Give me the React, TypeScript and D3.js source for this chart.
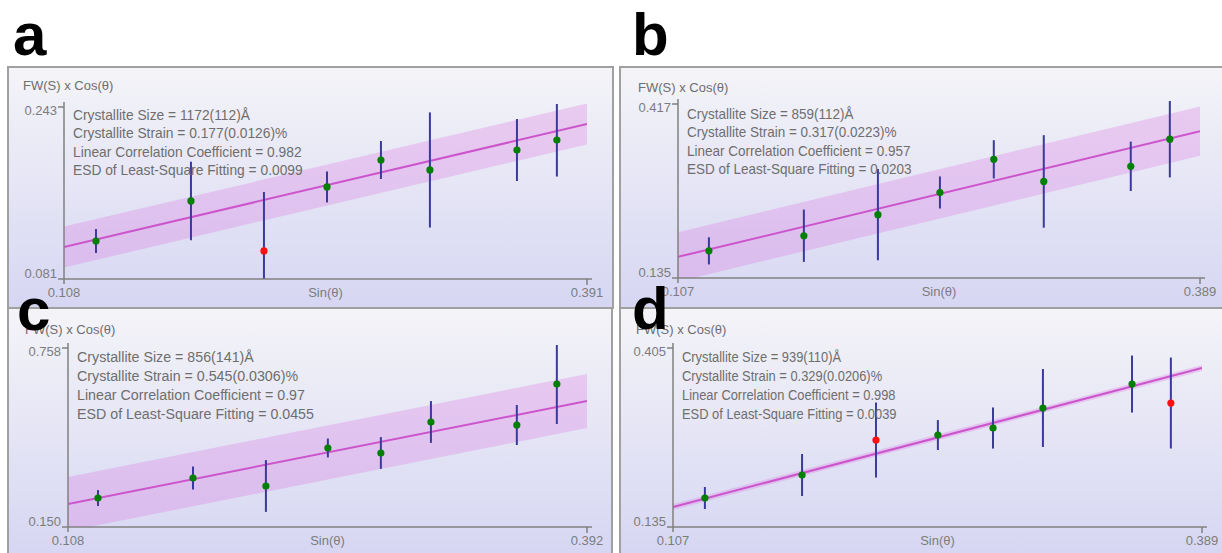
import React from 'react';
import * as d3 from 'd3';

// ---------- data ----------
const panelLetters = ['a', 'b', 'c', 'd'];
const xMins = [0.108, 0.107, 0.108, 0.107];
const xMaxs = [0.391, 0.389, 0.392, 0.389];
const yMins = [0.081, 0.135, 0.150, 0.135];
const yMaxs = [0.243, 0.417, 0.758, 0.405];

const aX = [0.1253, 0.1767, 0.2162, 0.2503, 0.2795, 0.3060, 0.3531, 0.3747];
const aY = [0.1168, 0.1545, 0.1074, 0.1677, 0.1931, 0.1837, 0.2025, 0.2119];
const aErr = [0.0113, 0.0370, 0.0556, 0.0146, 0.0179, 0.0542, 0.0292, 0.0344];
const aOutlier = [0, 0, 1, 0, 0, 0, 0, 0];
const aFit = [0.1111, 0.2270];
const aBand = 0.0193;

const bX = [0.1237, 0.1750, 0.2150, 0.2485, 0.2776, 0.3046, 0.3516, 0.3727];
const bY = [0.1790, 0.2035, 0.2377, 0.2736, 0.3273, 0.2915, 0.3160, 0.3600];
const bErr = [0.0220, 0.0424, 0.0740, 0.0260, 0.0310, 0.0750, 0.0400, 0.0620];
const bOutlier = [0, 0, 0, 0, 0, 0, 0, 0];
const bFit = [0.1692, 0.3730];
const bBand = 0.040;

const cX = [0.1244, 0.1764, 0.2163, 0.2502, 0.2792, 0.3066, 0.3536, 0.3755];
const cY = [0.2485, 0.3165, 0.2893, 0.4184, 0.4014, 0.5067, 0.4965, 0.6358];
const cErr = [0.027, 0.039, 0.088, 0.032, 0.054, 0.071, 0.068, 0.136];
const cOutlier = [0, 0, 0, 0, 0, 0, 0, 0];
const cFit = [0.2281, 0.578];
const cBand = 0.092;

const dX = [0.1240, 0.1758, 0.2152, 0.2482, 0.2776, 0.3042, 0.3517, 0.3724];
const dY = [0.1787, 0.2134, 0.2662, 0.2737, 0.2843, 0.3145, 0.3506, 0.3220];
const dErr = [0.0166, 0.0317, 0.0566, 0.0226, 0.0310, 0.0588, 0.0430, 0.0686];
const dOutlier = [0, 0, 1, 0, 0, 0, 0, 1];
const dFit = [0.1652, 0.3748];
const dBand = 0.0045;

const statsA = ['Crystallite Size = 1172(112)Å', 'Crystallite Strain = 0.177(0.0126)%', 'Linear Correlation Coefficient = 0.982', 'ESD of Least-Square Fitting = 0.0099'];
const statsB = ['Crystallite Size = 859(112)Å', 'Crystallite Strain = 0.317(0.0223)%', 'Linear Correlation Coefficient = 0.957', 'ESD of Least-Square Fitting = 0.0203'];
const statsC = ['Crystallite Size = 856(141)Å', 'Crystallite Strain = 0.545(0.0306)%', 'Linear Correlation Coefficient = 0.97', 'ESD of Least-Square Fitting = 0.0455'];
const statsD = ['Crystallite Size = 939(110)Å', 'Crystallite Strain = 0.329(0.0206)%', 'Linear Correlation Coefficient = 0.998', 'ESD of Least-Square Fitting = 0.0039'];

const yAxisTitle = 'FW(S) x Cos(θ)';
const xAxisTitle = 'Sin(θ)';

const seriesX = [aX, bX, cX, dX];
const seriesY = [aY, bY, cY, dY];
const seriesErr = [aErr, bErr, cErr, dErr];
const seriesOut = [aOutlier, bOutlier, cOutlier, dOutlier];
const fits = [aFit, bFit, cFit, dFit];
const bands = [aBand, bBand, cBand, dBand];
const stats = [statsA, statsB, statsC, statsD];

// ---------- layout ----------
const layouts = [
  { fx: 8, fy: 67, fw: 605, fh: 241, ax: 64, right: 587, top: 107, bottom: 279, sx: 0.92, lx: 13, ly: 55, tx: 23, ty: 90, sy: 120, sdy: 18.5 },
  { fx: 620, fy: 67, fw: 604, fh: 241, ax: 678, right: 1200, top: 104, bottom: 278, sx: 0.9, lx: 632, ly: 55, tx: 638, ty: 92, sy: 119, sdy: 18.5 },
  { fx: 8, fy: 308, fw: 604, fh: 247, ax: 68, right: 587, top: 348, bottom: 527, sx: 0.95, lx: 17, ly: 330, tx: 25, ty: 334, sy: 362.5, sdy: 19 },
  { fx: 620, fy: 308, fw: 604, fh: 247, ax: 673, right: 1202, top: 348, bottom: 527, sx: 0.86, lx: 632, ly: 329, tx: 636, ty: 334, sy: 362.5, sdy: 19 },
];

const FONT = "'Liberation Sans', Arial, sans-serif";
const AXIS = '#808080';
const TEXT = '#6e6e6e';

function Panel({ i }: { i: number }) {
  const L = layouts[i];
  const x = d3.scaleLinear().domain([xMins[i], xMaxs[i]]).range([L.ax, L.right]);
  const y = d3.scaleLinear().domain([yMins[i], yMaxs[i]]).range([L.bottom, L.top]);
  const fit = d3.scaleLinear().domain([xMins[i], xMaxs[i]]).range(fits[i]);
  const xs = [xMins[i], xMaxs[i]];
  const band = d3.area<number>().x(v => x(v)).y0(v => y(fit(v) - bands[i])).y1(v => y(fit(v) + bands[i]));
  const line = d3.line<number>().x(v => x(v)).y(v => y(fit(v)));
  const clipId = `clip-${i}`;
  const fmt = d3.format('.3f');
  return (
    <g>
      <rect x={L.fx} y={L.fy} width={L.fw} height={L.fh} fill="url(#bg)" stroke="#a0a0a0" strokeWidth={2} />
      <clipPath id={clipId}>
        <rect x={L.ax} y={L.top - 3} width={L.right - L.ax} height={L.bottom - L.top + 3} />
      </clipPath>
      <g clipPath={`url(#${clipId})`}>
        <path d={band(xs) || ''} fill="rgb(220,120,225)" fillOpacity={0.3} />
        <path d={line(xs) || ''} fill="none" stroke="#cc55cc" strokeWidth={2} />
        {seriesX[i].map((xv, k) => (
          <line key={'e' + k} x1={x(xv)} x2={x(xv)} y1={y(seriesY[i][k] - seriesErr[i][k])} y2={y(seriesY[i][k] + seriesErr[i][k])} stroke="#3a3a9c" strokeWidth={2} />
        ))}
        {seriesX[i].map((xv, k) => (
          <circle key={'p' + k} cx={x(xv)} cy={y(seriesY[i][k])} r={3.6} fill={seriesOut[i][k] ? '#ff1010' : '#008000'} />
        ))}
      </g>
      {/* axes */}
      <line x1={L.ax} x2={L.ax} y1={L.top - 5} y2={L.bottom + 5} stroke={AXIS} strokeWidth={1.5} />
      <line x1={L.ax - 6} x2={L.right + 5} y1={L.bottom} y2={L.bottom} stroke={AXIS} strokeWidth={1.5} />
      <line x1={L.ax - 6} x2={L.ax} y1={L.top} y2={L.top} stroke={AXIS} strokeWidth={1.5} />
      <line x1={L.right} x2={L.right} y1={L.bottom} y2={L.bottom + 6} stroke={AXIS} strokeWidth={1.5} />
      <g fontFamily={FONT} fontSize={13} fill="#7c7c7c">
        <text x={L.ax - 7} y={L.top + 8} textAnchor="end">{fmt(yMaxs[i])}</text>
        <text x={L.ax - 7} y={L.bottom - 1} textAnchor="end">{fmt(yMins[i])}</text>
        <text x={L.ax} y={L.bottom + 18} textAnchor="middle">{fmt(xMins[i])}</text>
        <text x={L.right} y={L.bottom + 18} textAnchor="middle">{fmt(xMaxs[i])}</text>
        <text x={(L.ax + L.right) / 2} y={L.bottom + 18} textAnchor="middle">{xAxisTitle}</text>
      </g>
      <text x={L.tx} y={L.ty} fontFamily={FONT} fontSize={13} fill={TEXT}>{yAxisTitle}</text>
      <g transform={`translate(${L.ax + 9},0) scale(${L.sx},1)`} fontFamily={FONT} fontSize={15} fill={TEXT}>
        {stats[i].map((s, k) => (
          <text key={k} x={0} y={L.sy + k * L.sdy}>{s}</text>
        ))}
      </g>
      <text x={L.lx} y={L.ly} fontFamily={FONT} fontSize={60} fontWeight="bold" fill="#000">{panelLetters[i]}</text>
    </g>
  );
}

export default function App() {
  return (
    <svg width={1222} height={553} style={{ position: 'absolute', left: 0, top: 0, background: '#fff' }}>
      <defs>
        <linearGradient id="bg" x1="0" y1="0" x2="0" y2="1">
          <stop offset="0" stopColor="#f4f4f8" />
          <stop offset="1" stopColor="#d6d6f3" />
        </linearGradient>
      </defs>
      <rect x={0} y={0} width={1222} height={553} fill="#fff" />
      {[0, 1, 2, 3].map(i => <Panel key={i} i={i} />)}
    </svg>
  );
}
